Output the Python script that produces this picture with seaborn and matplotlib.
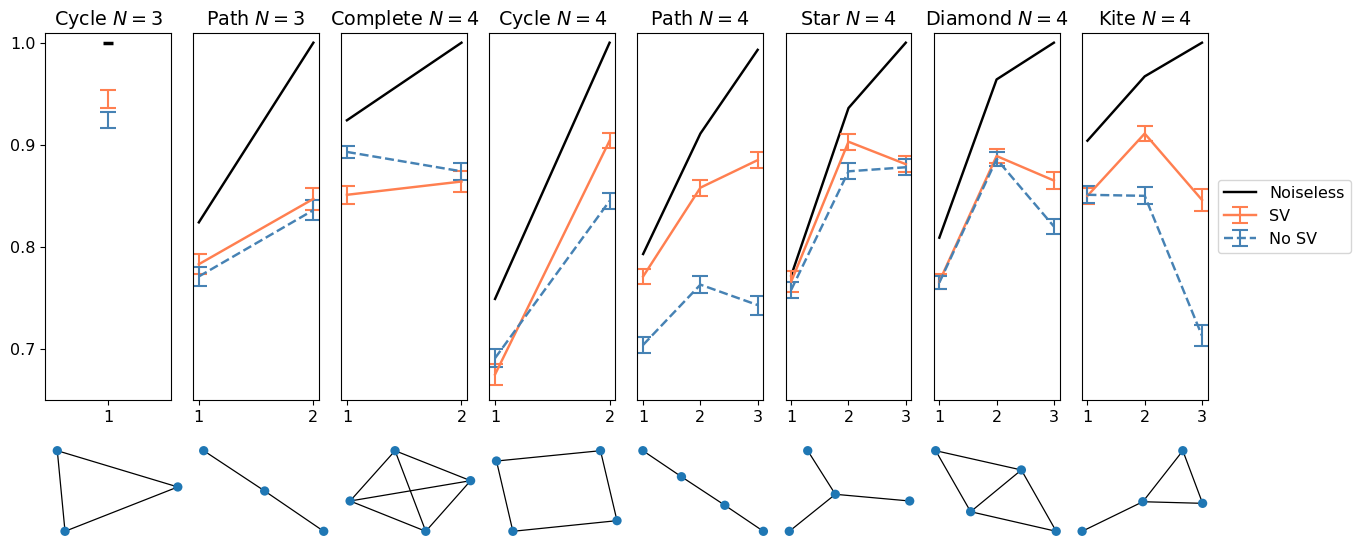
import matplotlib
matplotlib.use("Agg")
import matplotlib.pyplot as plt
import seaborn as sns
import numpy as np
from matplotlib.lines import Line2D

# ---------------- data ----------------
titles = ["Cycle $N=3$", "Path $N=3$", "Complete $N=4$", "Cycle $N=4$",
          "Path $N=4$", "Star $N=4$", "Diamond $N=4$", "Kite $N=4$"]
x_values = [[1], [1, 2], [1, 2], [1, 2], [1, 2, 3], [1, 2, 3], [1, 2, 3], [1, 2, 3]]

noiseless = [[1.0], [0.824, 1.0], [0.924, 1.0], [0.749, 1.0],
             [0.793, 0.911, 0.993], [0.772, 0.936, 1.0],
             [0.809, 0.964, 1.0], [0.904, 0.967, 1.0]]
sv_mean = [[0.945], [0.783, 0.847], [0.851, 0.864], [0.675, 0.904],
           [0.771, 0.858, 0.885], [0.766, 0.903, 0.881],
           [0.766, 0.889, 0.865], [0.850, 0.911, 0.846]]
sv_err = [[0.009], [0.010, 0.011], [0.009, 0.010], [0.010, 0.0072],
          [0.0078, 0.0077, 0.008], [0.010, 0.0078, 0.008],
          [0.0075, 0.007, 0.0086], [0.0077, 0.0073, 0.0108]]
nosv_mean = [[0.924], [0.771, 0.836], [0.893, 0.874], [0.691, 0.845],
             [0.704, 0.763, 0.743], [0.758, 0.874, 0.878],
             [0.765, 0.886, 0.820], [0.851, 0.850, 0.713]]
nosv_err = [[0.008], [0.0096, 0.0096], [0.0055, 0.0085], [0.009, 0.0078],
            [0.0078, 0.008, 0.0093], [0.0078, 0.008, 0.008],
            [0.006, 0.0068, 0.0075], [0.0085, 0.0082, 0.0103]]

series_labels = ["Noiseless", "SV", "No SV"]
y_ticks = [0.7, 0.8, 0.9, 1.0]

# graph drawings (normalised layout coordinates)
graph_nodes = [
    [(0.0, 1.0), (1.0, 0.55), (0.064, 0.0)],
    [(0.0, 1.0), (0.506, 0.5), (0.996, 0.0)],
    [(0.373, 1.0), (1.0, 0.628), (0.0, 0.376), (0.628, 0.0)],
    [(0.0, 0.872), (0.863, 1.0), (1.0, 0.132), (0.136, 0.0)],
    [(0.0, 1.0), (0.32, 0.677), (0.68, 0.323), (1.0, 0.0)],
    [(0.382, 0.459), (0.153, 1.0), (0.999, 0.376), (0.0, 0.0)],
    [(0.0, 1.0), (0.711, 0.761), (0.29, 0.243), (1.0, 0.0)],
    [(0.836, 1.0), (0.504, 0.367), (1.0, 0.347), (0.0, 0.0)],
]
graph_edges = [
    [(0, 1), (1, 2), (2, 0)],
    [(0, 1), (1, 2)],
    [(0, 1), (0, 2), (0, 3), (1, 2), (1, 3), (2, 3)],
    [(0, 1), (1, 2), (2, 3), (3, 0)],
    [(0, 1), (1, 2), (2, 3)],
    [(0, 1), (0, 2), (0, 3)],
    [(0, 1), (0, 2), (1, 2), (1, 3), (2, 3)],
    [(0, 1), (0, 2), (1, 2), (1, 3)],
]

# ---------------- figure ----------------
plt.rcParams["font.size"] = 11.5
plt.rcParams["axes.titlesize"] = 13.8
plt.rcParams["lines.linewidth"] = 1.75

W, H = 1357, 537
fig = plt.figure(figsize=(W / 100, H / 100), dpi=100)

SV_COLOR = "coral"
NOSV_COLOR = "steelblue"
LW = 1.75

top_axes = []
handles = None
for i in range(8):
    left = 45 + 148.1 * i
    ax = fig.add_axes([left / W, 1 - 400 / H, 126 / W, 367 / H])
    top_axes.append(ax)
    xs = x_values[i]
    if len(xs) == 1:
        ax.plot(xs, noiseless[i], color="black", linestyle="none",
                marker="_", markersize=7, markeredgewidth=2.5)
    else:
        sns.lineplot(x=xs, y=noiseless[i], color="black", ax=ax, legend=False,
                     linewidth=LW)
    h1 = ax.errorbar(xs, sv_mean[i], yerr=sv_err[i], color=SV_COLOR,
                     capsize=5.5, capthick=1.5, elinewidth=1.5,
                     linestyle="-", lw=LW)
    h2 = ax.errorbar(xs, nosv_mean[i], yerr=nosv_err[i], color=NOSV_COLOR,
                     capsize=5.5, capthick=1.5, elinewidth=1.5,
                     linestyle="--", lw=LW)
    handles = [h1, h2]
    ax.set_title(titles[i])
    ax.set_ylim(0.65, 1.0095)
    ax.set_xticks(xs)
    ax.set_xticklabels([str(v) for v in xs])
    if len(xs) == 1:
        ax.set_xlim(xs[0] - 0.055, xs[0] + 0.055)
    if i == 0:
        ax.set_yticks(y_ticks)
        ax.set_yticklabels([f"{v:.1f}" for v in y_ticks])
    else:
        ax.set_yticks([])

noiseless_handle = Line2D([], [], color="black", lw=LW)
top_axes[-1].legend([noiseless_handle, handles[0], handles[1]], series_labels,
                    loc="center left", bbox_to_anchor=(1.017, 0.5))

# bottom graph drawings
for i in range(8):
    left = 57.3 + 146.4 * i
    gax = fig.add_axes([left / W, 1 - 531.3 / H, 120.5 / W, 80.6 / H])
    gax.set_xlim(0, 1)
    gax.set_ylim(0, 1)
    gax.axis("off")
    nodes = np.array(graph_nodes[i])
    for a, b in graph_edges[i]:
        gax.plot([nodes[a, 0], nodes[b, 0]], [nodes[a, 1], nodes[b, 1]],
                 color="black", lw=0.9, clip_on=False, zorder=1)
    sns.scatterplot(x=nodes[:, 0], y=nodes[:, 1], ax=gax, color="#1f77b4",
                    s=45, edgecolor="none", zorder=2, clip_on=False, legend=False)

fig.savefig("out.png", dpi=100)
